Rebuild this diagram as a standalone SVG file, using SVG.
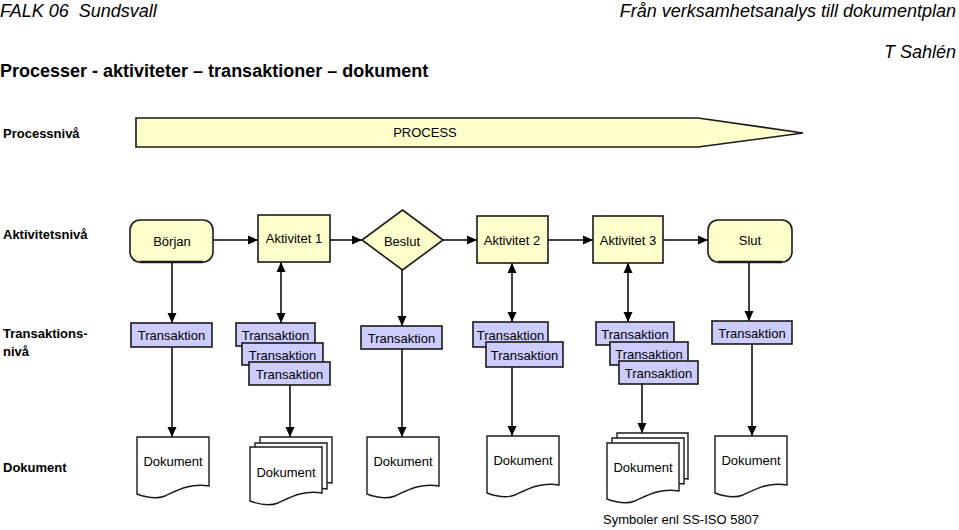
<svg xmlns="http://www.w3.org/2000/svg" width="959" height="530" viewBox="0 0 959 530">
<style>
text{font-family:"Liberation Sans",Arial,sans-serif;fill:#000}
.it{font-style:italic;font-size:18px}
.ttl{font-weight:bold;font-size:18px}
.lbl{font-weight:bold;font-size:13px}
.t13{font-size:13px}
.c{text-anchor:middle}
.yel{fill:#FFFFCC;stroke:#1a1a1a;stroke-width:1.6}
.tr{fill:#CCCCFF;stroke:#1a1a1a;stroke-width:1.6}
.doc{fill:#fff;stroke:#1a1a1a;stroke-width:1.4}
.ln{fill:none;stroke:#000;stroke-width:1.5}
.e{marker-end:url(#ah)}
.b{marker-start:url(#ah);marker-end:url(#ah)}
</style>
<defs>
<marker id="ah" markerUnits="userSpaceOnUse" markerWidth="10" markerHeight="10" viewBox="0 0 10 10" refX="10" refY="5" orient="auto-start-reverse">
<path d="M0,0.5 L10,5 L0,9.5 Z" fill="#000"/>
</marker>
</defs>
<rect width="959" height="530" fill="#fff"/>
<g id="header">
<text class="it" x="0" y="17">FALK 06&#160; Sundsvall</text>
<text class="it" x="956" y="17" text-anchor="end">Från verksamhetsanalys till dokumentplan</text>
<text class="it" x="956" y="58" text-anchor="end">T Sahlén</text>
<text class="ttl" x="0" y="77">Processer - aktiviteter – transaktioner – dokument</text>
</g>
<g id="levels">
<text class="lbl" x="3" y="138">Processnivå</text>
<text class="lbl" x="3" y="239">Aktivitetsnivå</text>
<text class="lbl" x="3" y="338">Transaktions-</text>
<text class="lbl" x="3" y="356">nivå</text>
<text class="lbl" x="3" y="472">Dokument</text>
</g>
<g id="process">
<polygon class="yel" points="136,118 698,118 803,133 698,147 136,147"/>
<text class="t13 c" x="425" y="137">PROCESS</text>
</g>
<g id="connectors">
<path class="ln e" d="M213,240 H258"/>
<path class="ln e" d="M330,240 H362"/>
<path class="ln e" d="M443,240 H477"/>
<path class="ln e" d="M548,240 H593"/>
<path class="ln e" d="M663,240 H708"/>
<path class="ln e" d="M172,262 V323"/>
<path class="ln b" d="M281,262 V323"/>
<path class="ln e" d="M402,270 V326"/>
<path class="ln b" d="M512,263 V322"/>
<path class="ln b" d="M628,263 V322"/>
<path class="ln e" d="M749,262 V321"/>
<path class="ln e" d="M172,347 V437"/>
<path class="ln e" d="M290,385 V437"/>
<path class="ln e" d="M402,349 V437"/>
<path class="ln e" d="M512,367 V436"/>
<path class="ln e" d="M642,384 V433"/>
<path class="ln e" d="M752,344 V436"/>
</g>
<g id="borjan">
<rect class="yel" x="130" y="220" width="83" height="42" rx="10"/>
<path d="M140,262 H203" stroke="#1a1a1a" stroke-width="2.5"/>
<text class="t13 c" x="172" y="246">Början</text>
</g>
<g id="aktivitet1">
<rect class="yel" x="258" y="215" width="72" height="47"/>
<text class="t13 c" x="294" y="243">Aktivitet 1</text>
</g>
<g id="beslut">
<polygon class="yel" points="402.5,210 443,240 402.5,270 362,240"/>
<text class="t13 c" x="402" y="246">Beslut</text>
</g>
<g id="aktivitet2">
<rect class="yel" x="477" y="216" width="71" height="47"/>
<text class="t13 c" x="512" y="245">Aktivitet 2</text>
</g>
<g id="aktivitet3">
<rect class="yel" x="593" y="216" width="70" height="47"/>
<text class="t13 c" x="628" y="245">Aktivitet 3</text>
</g>
<g id="slut">
<rect class="yel" x="708" y="220" width="84" height="42" rx="10"/>
<path d="M718,262 H782" stroke="#1a1a1a" stroke-width="2.5"/>
<text class="t13 c" x="750" y="245">Slut</text>
</g>
<g id="trans1">
<rect class="tr" x="131" y="323" width="81" height="24"/>
<text class="t13 c" x="171.5" y="340">Transaktion</text>
</g>
<g id="trans2">
<rect class="tr" x="236" y="323" width="79" height="23"/>
<text class="t13 c" x="275.5" y="340">Transaktion</text>
<rect class="tr" x="242" y="343" width="81" height="22"/>
<text class="t13 c" x="282.5" y="360">Transaktion</text>
<rect class="tr" x="249" y="362" width="81" height="23"/>
<text class="t13 c" x="289.5" y="379">Transaktion</text>
</g>
<g id="trans3">
<rect class="tr" x="361" y="326" width="81" height="23"/>
<text class="t13 c" x="401.5" y="343">Transaktion</text>
</g>
<g id="trans4">
<rect class="tr" x="473" y="322" width="75" height="25"/>
<text class="t13 c" x="510.5" y="340">Transaktion</text>
<rect class="tr" x="486" y="342" width="77" height="25"/>
<text class="t13 c" x="524.5" y="360">Transaktion</text>
</g>
<g id="trans5">
<rect class="tr" x="596" y="322" width="78" height="23"/>
<text class="t13 c" x="635" y="339">Transaktion</text>
<rect class="tr" x="610" y="342" width="78" height="23"/>
<text class="t13 c" x="649" y="359">Transaktion</text>
<rect class="tr" x="619" y="361" width="79" height="23"/>
<text class="t13 c" x="658.5" y="378">Transaktion</text>
</g>
<g id="trans6">
<rect class="tr" x="712" y="321" width="80" height="23"/>
<text class="t13 c" x="752" y="338">Transaktion</text>
</g>
<g id="doc1">
<path class="doc" d="M137,437 h72 v49 c-19,-3 -31,4 -44,10 c-10,4 -20,1 -28,-2 z"/>
<text class="t13 c" x="173" y="466">Dokument</text>
</g>
<g id="doc2">
<path class="doc" d="M260,437 h72 v46 c-19,-3 -31,4 -44,10 c-10,4 -20,1 -28,-2 z"/>
<path class="doc" d="M255,443 h72 v46 c-19,-3 -31,4 -44,10 c-10,4 -20,1 -28,-2 z"/>
<path class="doc" d="M250,447 h72 v46 c-19,-3 -31,4 -44,10 c-10,4 -20,1 -28,-2 z"/>
<text class="t13 c" x="286" y="477">Dokument</text>
</g>
<g id="doc3">
<path class="doc" d="M367,437 h72 v49 c-19,-3 -31,4 -44,10 c-10,4 -20,1 -28,-2 z"/>
<text class="t13 c" x="403" y="466">Dokument</text>
</g>
<g id="doc4">
<path class="doc" d="M487,436 h72 v49 c-19,-3 -31,4 -44,10 c-10,4 -20,1 -28,-2 z"/>
<text class="t13 c" x="523" y="465">Dokument</text>
</g>
<g id="doc5">
<path class="doc" d="M617,433 h71 v46 c-19,-3 -31,4 -44,10 c-10,4 -19,1 -27,-2 z"/>
<path class="doc" d="M612,438 h72 v46 c-19,-3 -31,4 -44,10 c-10,4 -20,1 -28,-2 z"/>
<path class="doc" d="M607,443 h72 v48 c-19,-3 -31,4 -44,10 c-10,4 -20,1 -28,-2 z"/>
<text class="t13 c" x="643" y="472">Dokument</text>
</g>
<g id="doc6">
<path class="doc" d="M715,436 h72 v49 c-19,-3 -31,4 -44,10 c-10,4 -20,1 -28,-2 z"/>
<text class="t13 c" x="751" y="465">Dokument</text>
</g>
<text class="t13" x="603" y="524">Symboler enl SS-ISO 5807</text>
</svg>
